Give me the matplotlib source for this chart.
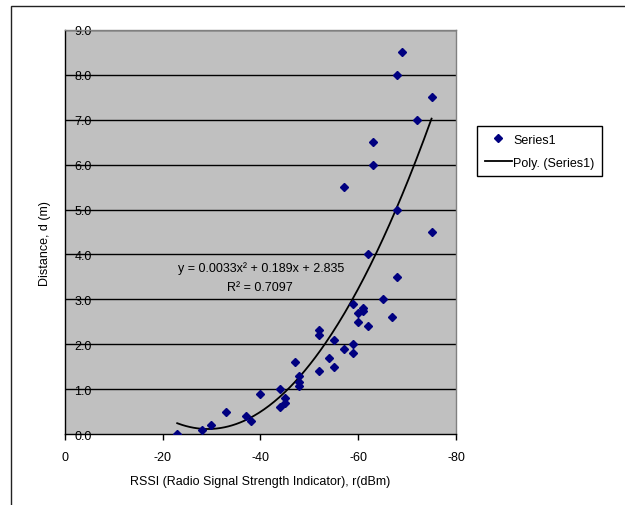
import numpy as np
import matplotlib
matplotlib.use('Agg')
import matplotlib.pyplot as plt
from matplotlib.patches import Rectangle

# ---- data ----
rssi = [-23, -28, -30, -33, -37, -38, -40, -44, -44, -45, -45, -47, -48, -48, -48,
        -52, -52, -52, -54, -55, -55, -57, -57, -59, -59, -59, -60, -60, -61, -61,
        -62, -62, -63, -63, -65, -67, -68, -68, -68, -69, -72, -75, -75]
distance = [0.0, 0.1, 0.2, 0.5, 0.4, 0.3, 0.9, 1.0, 0.6, 0.8, 0.7, 1.6, 1.3, 1.16, 1.07,
            2.32, 2.2, 1.4, 1.7, 2.1, 1.5, 1.9, 5.5, 2.9, 2.0, 1.8, 2.7, 2.5, 2.75, 2.8,
            2.4, 4.0, 6.5, 6.0, 3.0, 2.6, 8.0, 5.0, 3.5, 8.5, 7.0, 7.5, 4.5]
x_ticks = [0, -20, -40, -60, -80]
x_tick_labels = ['0', '-20', '-40', '-60', '-80']
y_ticks = [0, 1, 2, 3, 4, 5, 6, 7, 8, 9]
y_tick_labels = ['0.0', '1.0', '2.0', '3.0', '4.0', '5.0', '6.0', '7.0', '8.0', '9.0']
equation_text = 'y = 0.0033x\u00b2 + 0.189x + 2.835'
r2_text = 'R\u00b2 = 0.7097'
series_name = 'Series1'
trend_name = 'Poly. (Series1)'
x_label = 'RSSI (Radio Signal Strength Indicator), r(dBm)'
y_label = 'Distance, d (m)'

plt.rcParams['font.family'] = ['Liberation Sans', 'DejaVu Sans']

W, H = 625, 506
fig = plt.figure(figsize=(W / 100, H / 100), dpi=100)
fig.patch.set_facecolor('white')

# outer chart frame (cut off at right and bottom)
fig.patches.append(Rectangle((11 / W, -0.1), 1.2, 1.1 - 7 / H, transform=fig.transFigure,
                             facecolor='none', edgecolor='#222222', lw=1.0, zorder=0))

L, R, T, B = 64.7, 456, 31, 435
ax = fig.add_axes([L / W, 1 - B / H, (R - L) / W, (B - T) / H])
ax.set_facecolor('#C0C0C0')
ax.set_axisbelow(True)

ax.set_xlim(0, -80)
ax.set_ylim(0, 9)
ax.set_xticks(x_ticks)
ax.set_xticklabels(x_tick_labels)
ax.set_yticks(y_ticks)
ax.set_yticklabels(y_tick_labels)

for y in y_ticks[1:]:
    ax.axhline(y, color='black', lw=1.0, zorder=1)

ax.tick_params(axis='x', direction='out', length=4, width=1, pad=8, labelsize=9, colors='black')
ax.tick_params(axis='y', direction='in', length=0, pad=-19.5, labelsize=9, colors='black')
for lab in ax.get_yticklabels():
    lab.set_horizontalalignment('right')

ax.spines['left'].set_color('black')
ax.spines['bottom'].set_color('black')
ax.spines['top'].set_color('#808080')
ax.spines['right'].set_color('#808080')
for s in ax.spines.values():
    s.set_linewidth(1.0)

# points
ax.plot(rssi, distance, linestyle='none', marker='D', markersize=3.9,
        color='#000080', zorder=4, label=series_name)

# polynomial trendline
coefs = np.polyfit(rssi, distance, 2)
xs = np.linspace(min(rssi), max(rssi), 200)
ax.plot(xs, np.polyval(coefs, xs), color='black', lw=1.3, zorder=3, label=trend_name)

ax.text(-40.1, 3.71, equation_text, ha='center', va='center', fontsize=9, zorder=5)
ax.text(-40.0, 3.28, r2_text, ha='center', va='center', fontsize=9, zorder=5)

fig.text(260 / W, 1 - 482 / H, x_label, ha='center', va='center', fontsize=9)
fig.text(45 / W, 1 - 244 / H, y_label, ha='center', va='center', rotation=90, fontsize=9)

leg = ax.legend(loc='upper left', bbox_to_anchor=(477 / W, 1 - 127 / H),
                bbox_transform=fig.transFigure, fontsize=9, frameon=True,
                fancybox=False, edgecolor='black', framealpha=1, borderpad=0.6,
                handlelength=2.2, handletextpad=0.1, labelspacing=0.9,
                borderaxespad=0)
leg.get_frame().set_linewidth(1.0)

fig.savefig('out.png', dpi=100)
